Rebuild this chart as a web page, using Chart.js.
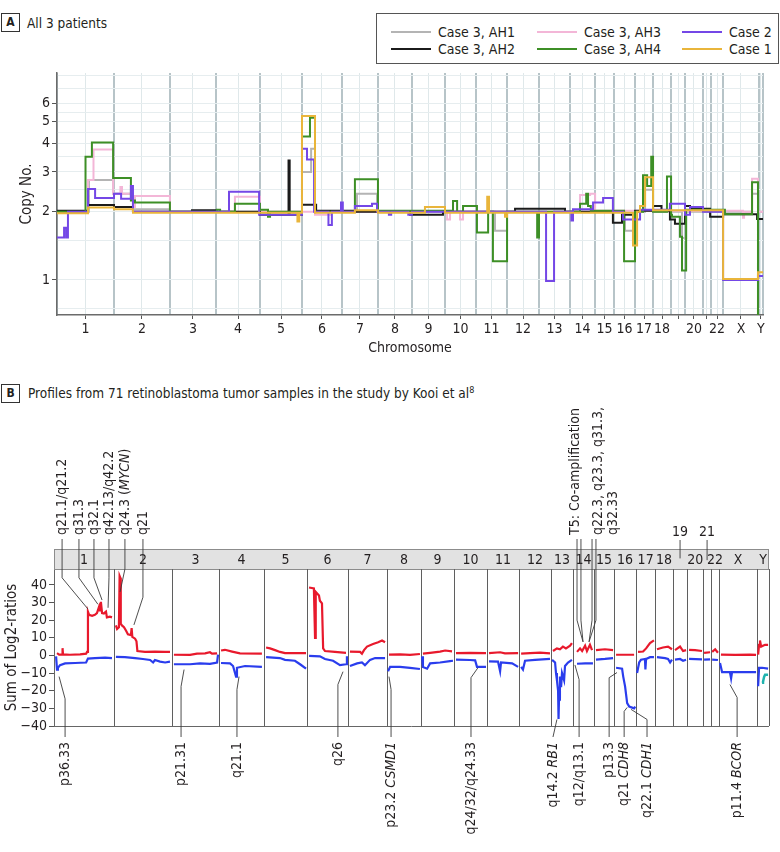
<!DOCTYPE html>
<html lang="en">
<head>
  <meta charset="UTF-8" />
  <title>Copy number profiles</title>
  <script src="https://cdn.jsdelivr.net/npm/chart.js"></script>
  <style>
    body {
      margin: 0;
      background: #fff;
      color: #231f20;
      font-family: 'Liberation Sans Narrow', 'DejaVu Sans Condensed', 'Liberation Sans', sans-serif;
    }
    #page {
      position: relative;
      width: 780px;
      height: 852px;
      overflow: hidden;
    }
    .tag {
      position: absolute;
      left: 1px;
      width: 17px;
      height: 17px;
      border: 1px solid #333;
      font-weight: bold;
      font-size: 12px;
      line-height: 17px;
      text-align: center;
    }
    .title {
      position: absolute;
      font-size: 13.5px;
      line-height: 18px;
    }
    .title sup { font-size: 9px; line-height: 0; }
    #legendA {
      position: absolute;
      left: 376px;
      top: 13px;
      width: 403px;
      height: 51px;
      box-sizing: border-box;
      border: 1px solid #555;
      padding: 9px 0 0 14px;
      display: grid;
      grid-template-columns: 146px 145px 140px;
      grid-template-rows: 17px 17px;
      grid-auto-flow: column;
      font-size: 14px;
    }
    .item { display: flex; align-items: center; white-space: nowrap; }
    .swatch { width: 40px; height: 2px; margin-right: 7px; }
    canvas { position: absolute; left: 0; }
    #chartA { top: 0; }
    #chartB { top: 380px; }
  </style>
</head>
<body>
<div id="page">
  <div class="tag" style="top:13px">A</div>
  <div class="title" style="left:27px; top:14px">All 3 patients</div>
  <div id="legendA"></div>
  <canvas id="chartA" width="780" height="370"></canvas>

  <div class="tag" style="top:384px">B</div>
  <div class="title" style="left:28px; top:384px">Profiles from 71 retinoblastoma tumor samples in the study by Kooi et al<sup>8</sup></div>
  <canvas id="chartB" width="780" height="472"></canvas>
</div>

<script>
const FONT = "'Liberation Sans Narrow', 'DejaVu Sans Condensed', 'Liberation Sans', sans-serif";
Chart.defaults.font.family = FONT;
Chart.defaults.color = '#231f20';

// ---------- shared ----------
const chromNames = ['1','2','3','4','5','6','7','8','9','10','11','12','13','14','15','16','17','18','19','20','21','22','X','Y'];

// ---------- panel A : copy number, genome position (Mb as laid out in the figure) ----------
const chromEdgesA = [0,250,495,697,890,1074,1249,1407,1556,1701,1837,1973,2113,2249,2359,2442,2534,2613,2692,2753,2832,2867,2920,3077,3095];
const axisLabelsA = ['1','2','3','4','5','6','7','8','9','10','11','12','13','14','15','16','17','18','','20','','22','X','Y'];
const copyTicks = [1,2,3,4,5,6];
const copyGrid = [0.75,1,1.5,2,2.5,3,3.5,4,4.5,5,5.5,6,7,8];

const seriesNames = ['Case 3, AH1','Case 3, AH2','Case 3, AH3','Case 3, AH4','Case 2','Case 1'];
const seriesColors = ['#b4b4b4','#1b1b1b','#f3b6d7','#3d8f26','#7447e6','#e9b53b'];

const ah1X = [0,140,246,333,495,1074,1114,1131,1315,1403,1920,1973,2490,2534,2578,2613,2740,2758,3047,3073,3095];
const ah1Y = [2.0,2.76,2.4,2.05,2.0,3.0,3.8,2.0,2.4,2.0,1.65,2.0,1.65,2.0,2.5,2.0,1.53,2.0,2.4,2.0,2.0];

const ah2X = [0,136,250,333,592,697,890,1015,1020,1074,1136,1306,1548,1692,2008,2227,2437,2477,2534,2613,2650,2687,2709,2753,2775,2863,2920,3069,3095];
const ah2Y = [2.02,2.14,2.1,2.0,2.03,2.0,1.94,3.37,1.94,2.15,2.02,2.0,1.94,2.0,2.06,2.0,1.79,1.94,2.02,2.12,2.02,1.85,1.77,2.12,2.06,1.9,1.95,1.86,1.86];

const ah3X = [0,136,160,246,278,285,333,342,495,780,890,1131,1197,1710,1723,1767,1780,2293,2337,2359,3007,3012,3047,3073,3095];
const ah3Y = [2.0,2.76,3.77,2.4,2.57,2.4,2.1,2.35,2.0,2.33,2.0,1.94,2.0,1.85,2.0,1.85,2.0,2.37,2.4,2.02,1.88,2.0,2.8,2.0,2.0];

const ah4X = [0,125,153,246,324,342,495,701,715,780,890,925,934,1074,1109,1131,1306,1407,1736,1754,1780,1841,1890,1911,1973,2105,2113,2293,2320,2328,2340,2486,2534,2569,2587,2605,2613,2674,2692,2696,2731,2740,2758,2928,3047,3073,3095];
const ah4Y = [2.0,3.5,4.04,2.82,2.24,2.2,2.0,2.04,2.0,2.17,2.04,1.9,2.0,4.3,5.2,2.0,2.78,2.02,2.23,2.0,2.12,1.62,2.0,1.21,2.0,1.54,2.0,2.17,2.4,2.12,2.02,1.21,2.0,2.9,2.6,3.5,2.0,2.86,1.94,1.9,1.55,1.10,2.04,1.95,2.70,0.55,0.55];

const case2X = [0,31,40,48,136,167,250,281,324,333,754,886,1074,1096,1127,1190,1205,1245,1253,1306,1381,1403,1455,1465,1540,1556,2144,2179,2255,2262,2350,2394,2437,2481,2556,2687,2753,2775,2832,2920,3073,3095];
const case2Y = [1.54,1.70,1.54,2.0,2.52,2.3,2.4,2.28,2.6,2.0,2.45,1.94,3.8,3.4,2.0,1.75,2.0,2.2,2.0,2.12,2.17,2.0,1.94,2.0,1.94,2.0,0.99,2.0,1.83,2.05,2.2,2.3,2.0,1.85,2.04,2.17,1.94,2.1,2.0,1.0,1.04,1.04];

const case1X = [0,136,250,333,1054,1062,1074,1131,1306,1407,1613,1701,1886,1894,1964,1973,2525,2543,2556,2578,2613,2920,3073,3095];
const case1Y = [1.97,2.09,2.05,1.98,1.81,1.98,5.3,1.98,2.03,1.98,2.1,1.98,2.33,1.98,1.9,1.98,1.42,2.0,2.12,2.84,2.03,1.01,1.08,1.08];

// ---------- panel B : sum of log2 ratios ----------
const chromEdgesB = [0,260,511,714,909,1095,1273,1442,1589,1732,1874,2013,2152,2247,2338,2424,2520,2602,2680,2741,2810,2844,2879,3043,3095];
const headerLabelsB = ['1','2','3','4','5','6','7','8','9','10','11','12','13','14','15','16','17','18','','20','','22','X','Y'];
const log2Ticks = [-40,-30,-20,-10,0,10,20,30,40];

const gainX = [13,22,35,37,39,69,113,139,143,147,152,165,177,186,195,199,203,208,216,225,229,242,251,255,
  268,273,281,284,287,289,294,303,312,320,333,336,339,351,357,361,394,437,481,502,508,
  519,589,619,654,675,684,706,712,
  723,740,771,805,900,905,
  918,935,957,978,1000,1091,1093,
  1104,1125,1130,1133,1147,1151,1160,1165,1173,1216,1264,1270,
  1281,1325,1333,1342,1355,1381,1403,1420,1433,1440,
  1450,1498,1541,1584,1588,
  1597,1628,1671,1693,1723,1730,
  1740,1801,1870,1873,
  1883,1931,1952,2009,2012,
  2022,2061,2104,2147,2150,
  2160,2177,2190,2203,2216,2234,2242,2250,
  2264,2277,2286,2299,2307,2320,2329,2336,
  2346,2385,2420,2422,
  2433,2511,2518,
  2528,2550,2563,2580,2597,2600,
  2610,2636,2658,2675,2678,
  2688,2710,2723,2736,2739,
  2749,2775,2805,2808,
  2814,2840,2842,
  2849,2862,2874,2877,
  2887,2948,3013,3039,3041,
  3048,3052,3056,3061,3078,3091];
const gainY = [1.3,0.5,0.6,4.1,0.6,0.4,0.6,1.0,2.0,24.8,23,22.5,23,24,27.6,25,30.4,24,23.8,24.8,21.6,22,21.6,null,
  17,15,16,45,44,18,17,16,14,12,11.5,15.5,10.5,9.5,8,2.5,2,2.2,2,2,null,
  0.4,0.3,1,1.2,1.8,1.0,1.2,null,
  2.8,3.2,2.2,1.2,1.0,null,
  4.5,4,3,2,1.3,1.3,null,
  38.5,38,10,36,34,31,29.5,4,2.5,2,1.5,null,
  2.2,2,1,3,5,6.5,7.5,8.5,7.5,null,
  0.5,0.6,0.3,0.8,null,
  1,1.5,2.2,2.8,2.3,null,
  1.3,1.5,1.3,null,
  1.3,1.8,1.2,1.3,null,
  1,1.3,1.6,1.2,null,
  2.5,4,3.5,5,4,5.5,7,null,
  2,4,2.5,5.5,2.5,6,3,null,
  3,3.5,3,null,
  0.4,0.4,null,
  2,2.2,4,7,8.5,null,
  3.5,4.5,5,3.5,null,
  3,5,2.5,3,null,
  3.2,3,2.5,null,
  1.5,1.8,null,
  2,3.5,1.5,null,
  0.5,0.3,0.5,0.3,null,
  0.5,6,8.5,5,6,6];

const lossX = [9,13,17,26,48,91,139,147,177,221,251,255,
  268,307,351,385,416,429,437,459,481,502,508,
  519,589,632,675,706,710,712,
  723,762,775,788,792,827,900,905,
  918,978,1000,1043,1065,1091,1093,
  1104,1151,1173,1208,1238,1264,1268,1270,
  1281,1312,1333,1346,1368,1390,1433,1440,
  1446,1455,1498,1541,1584,1588,
  1593,1597,1615,1628,1671,1714,1727,1730,
  1740,1801,1823,1831,1870,1873,
  1883,1922,1931,1935,1983,2009,2012,
  2022,2030,2039,2082,2147,2150,
  2156,2169,2173,2177,2182,2184,2186,2190,2195,2199,2208,2212,2225,2242,2250,
  2264,2299,2333,2336,
  2346,2385,2420,2422,
  2433,2459,2464,2472,2481,2490,2511,2516,2518,
  2524,2533,2541,2558,2560,2563,2580,2597,2600,
  2610,2645,2658,2667,2675,2678,
  2688,2710,2723,2736,2739,
  2749,2805,2808,
  2814,2840,2842,
  2849,2874,2877,
  2883,2892,2926,2931,2935,2991,3039,3041,
  3048,3052,3065,3091];
const lossY = [-0.5,-8,-7,-5.5,-4.5,-4.3,-4,-1.8,-1.5,-1.2,-1.5,null,
  -0.8,-1,-1.5,-2,-2.6,-4,-2.6,-3.5,-4,-3.5,null,
  -5,-5,-4.5,-4.8,-4,0.5,null,
  -4.3,-4.5,-6,-12,-7,-6,-6.5,null,
  -1,-1.5,-2.5,-3,-5,-7.5,null,
  -0.2,-0.5,-2,-3,-5.5,-5,-0.5,null,
  -6,-4.5,-4,-5.5,-2.5,-1.5,-1.5,null,
  -9,-6.5,-6.5,-7,-7.7,null,
  -0.5,-6.5,-7.5,-4.5,-4,-3.2,-3,null,
  -2.4,-2.6,-2.8,-6.5,-6.5,null,
  -3.4,-3.5,-9,-4,-4.5,-6.5,null,
  -6.5,-8,-3,-2.5,-2,null,
  -2.5,-4,-10,-14,-20,-36,-25,-12,-18,-10,-14,-6,-4,-2.5,null,
  -4.7,-4.5,-4.5,null,
  -2.4,-2,-1.5,null,
  -7,-7.5,-12,-17.5,-27,-29,-30,-29,null,
  -10,-4,-2.4,-2,-8,-2,-1,-1,null,
  -1,-1.5,-2,-4,-2.4,null,
  -2.4,-2,-3,-2.4,null,
  -2,-2.2,null,
  -2.4,-2.2,null,
  -2.4,-2.6,null,
  -4.3,-9.5,-9.5,-13,-9.5,-9.5,-9.5,null,
  -17.5,-7,-7,-7.5];

const tealX = [3065,3069,3074,3078,3091];
const tealY = [-15.5,-15,-12,-11,-11];

// annotations (x in genome position, y in log2 units; bend = where the leader turns)
const topNotes = [
  { lines: ['q21.1/q21.2'], x: 35, legs: [35], bend: 44, ax: 147, ay: 26.3 },
  { lines: ['q31.3'], x: 108, legs: [108], bend: 44, ax: 190, ay: 29 },
  { lines: ['q32.1'], x: 173, legs: [173], bend: 44, ax: 208, ay: 31.4 },
  { lines: ['q42.13/q42.2'], x: 238, legs: [238], bend: 44, ax: 234, ay: 27 },
  { lines: ['q24.3 (*MYCN*)'], x: 307, legs: [307], bend: 49, ax: 286, ay: 36 },
  { lines: ['q21'], x: 385, legs: [385], bend: 33, ax: 346, ay: 17.3 },
  { lines: ['T5: Co-amplification'], x: 2255, legs: [2264, 2281], bend: 20, ax: 2290, ay: 7.7 },
  { lines: ['q22.3, q23.3, q31.3,', 'q32.33'], x: 2355, legs: [2329, 2346], bend: 20, ax: 2316, ay: 7.7 }
];
const smallNotes = [
  { text: '19', x: 2710, to: 55 },
  { text: '21', x: 2827, to: 54 }
];
const bottomNotes = [
  { text: 'p36.33', x: 48, bend: -24.6, ax: 22, ay: -12 },
  { text: 'p21.31', x: 550, bend: -17.6, ax: 563, ay: -8 },
  { text: 'q21.1', x: 792, bend: -19.3, ax: 801, ay: -12 },
  { text: 'q26', x: 1229, bend: -16.5, ax: 1251, ay: -9.2 },
  { text: 'p23.2 *CSMD1*', x: 1459, bend: -19.3, ax: 1450, ay: -12 },
  { text: 'q24/32/q24.33', x: 1805, bend: -12.6, ax: 1835, ay: -7 },
  { text: 'q14.2 *RB1*', x: 2160, bend: null, ax: 2177, ay: -36.3 },
  { text: 'q12/q13.1', x: 2273, bend: -13.7, ax: 2255, ay: -5.4 },
  { text: 'p13.3', x: 2403, bend: -12.6, ax: 2437, ay: -9.7 },
  { text: 'q21 *CDH8*', x: 2468, bend: -31.7, ax: 2481, ay: -29.5 },
  { text: 'q22.1 *CDH1*', x: 2567, bend: -36.3, ax: 2498, ay: -30.6 },
  { text: 'p11.4 *BCOR*', x: 2957, bend: -23.8, ax: 2926, ay: -16.5 }
];

// ---------- helpers ----------
function pts(xs, ys) {
  return xs.map((x, i) => ({ x: x, y: ys[i] }));
}
function centers(edges) {
  return edges.slice(0, -1).map((e, i) => (e + edges[i + 1]) / 2);
}

// ---------- legend A ----------
const legendEl = document.getElementById('legendA');
seriesNames.forEach((name, i) => {
  const item = document.createElement('div');
  item.className = 'item';
  item.innerHTML = '<span class="swatch" style="background:' + seriesColors[i] + '"></span>' + name;
  legendEl.appendChild(item);
});

// ---------- chart A ----------
const centersA = centers(chromEdgesA);
const seriesA = [[ah1X, ah1Y], [ah2X, ah2Y], [ah3X, ah3Y], [ah4X, ah4Y], [case2X, case2Y], [case1X, case1Y]];
const drawOrder = [5, 3, 4, 2, 1, 0];

new Chart(document.getElementById('chartA'), {
  type: 'line',
  data: {
    datasets: seriesA.map((s, i) => ({
      label: seriesNames[i],
      data: pts(s[0], s[1]),
      borderColor: seriesColors[i],
      borderWidth: 2,
      stepped: 'before',
      pointRadius: 0,
      fill: false,
      order: drawOrder[i]
    }))
  },
  options: {
    responsive: false,
    animation: false,
    events: [],
    layout: { padding: { top: 73, right: 17, left: 0, bottom: 0 } },
    plugins: { legend: { display: false }, tooltip: { enabled: false } },
    scales: {
      x: {
        type: 'linear',
        min: 0,
        max: 3095,
        afterFit: s => { s.height = 55; },
        afterBuildTicks: s => {
          s.ticks = chromEdgesA.map(v => ({ value: v, kind: 'edge', name: '' }))
            .concat(centersA.map((v, i) => ({ value: v, kind: 'mid', name: axisLabelsA[i] })));
        },
        ticks: {
          autoSkip: false,
          maxRotation: 0,
          padding: 2,
          font: { size: 14 },
          color: '#231f20',
          callback: (v, i, t) => t[i].name
        },
        grid: {
          color: c => c.tick && c.tick.kind === 'edge' ? '#b7c4c8' : '#dfe8ea',
          lineWidth: c => c.tick && c.tick.kind === 'edge' ? 2 : 1,
          tickColor: c => c.tick && c.tick.kind === 'mid' ? '#555' : 'rgba(0,0,0,0)',
          tickLength: 4
        },
        border: { color: '#6b6b6b', width: 1.5 },
        title: { display: true, text: 'Chromosome', font: { size: 14 }, padding: { top: 0, bottom: 13 } }
      },
      y: {
        type: 'logarithmic',
        min: 0.72,
        max: 8.2,
        afterFit: s => { s.width = 57; },
        afterBuildTicks: s => { s.ticks = copyGrid.map(v => ({ value: v })); },
        ticks: {
          autoSkip: false,
          padding: 2,
          font: { size: 14 },
          color: '#231f20',
          callback: v => copyTicks.includes(v) ? String(v) : ''
        },
        grid: {
          color: '#e6edef',
          lineWidth: 1,
          tickColor: c => c.tick && copyTicks.includes(c.tick.value) ? '#555' : 'rgba(0,0,0,0)',
          tickLength: 5
        },
        border: { color: '#6b6b6b', width: 1.5 },
        title: { display: true, text: 'Copy No.', font: { size: 15 }, padding: { top: 18, bottom: 0 } }
      }
    }
  }
});

// ---------- chart B ----------
const centersB = centers(chromEdgesB);

function richSegments(str) {
  return str.split('*').map((t, i) => ({ t: t, it: i % 2 === 1 })).filter(s => s.t.length);
}
function segWidth(ctx, segs, size) {
  let w = 0;
  segs.forEach(s => {
    ctx.font = (s.it ? 'italic ' : '') + size + 'px ' + FONT;
    w += ctx.measureText(s.t).width;
  });
  return w;
}
function drawVertical(ctx, str, x, y, anchorEnd, size) {
  const segs = richSegments(str);
  const w = segWidth(ctx, segs, size);
  ctx.save();
  ctx.translate(x, y);
  ctx.rotate(-Math.PI / 2);
  ctx.textBaseline = 'middle';
  ctx.textAlign = 'left';
  let pos = anchorEnd ? -w : 0;
  segs.forEach(s => {
    ctx.font = (s.it ? 'italic ' : '') + size + 'px ' + FONT;
    ctx.fillText(s.t, pos, 0);
    pos += ctx.measureText(s.t).width;
  });
  ctx.restore();
}

const genomePanel = {
  id: 'genomePanel',
  beforeDatasetsDraw(chart) {
    const ctx = chart.ctx;
    const xs = chart.scales.x;
    const { left, right, top, bottom } = chart.chartArea;
    const headTop = top - 20;
    ctx.save();
    // chromosome header band
    ctx.fillStyle = '#e2e2e2';
    ctx.fillRect(left, headTop, right - left, 20);
    ctx.strokeStyle = '#8c8c8c';
    ctx.lineWidth = 1;
    ctx.strokeRect(left + 0.5, headTop + 0.5, right - left - 1, 20);
    ctx.fillStyle = '#231f20';
    ctx.font = '14px ' + FONT;
    ctx.textAlign = 'center';
    ctx.textBaseline = 'middle';
    centersB.forEach((c, i) => {
      if (headerLabelsB[i]) ctx.fillText(headerLabelsB[i], xs.getPixelForValue(c), headTop + 11);
    });
    // chromosome boundaries
    ctx.strokeStyle = '#5f5f5f';
    chromEdgesB.slice(1).forEach(e => {
      const px = Math.round(xs.getPixelForValue(e)) + 0.5;
      ctx.beginPath();
      ctx.moveTo(px, top);
      ctx.lineTo(px, bottom);
      ctx.stroke();
    });
    // bottom axis line
    ctx.strokeStyle = '#666';
    ctx.beginPath();
    ctx.moveTo(left, bottom + 0.5);
    ctx.lineTo(right, bottom + 0.5);
    ctx.stroke();
    ctx.restore();
  },
  afterDatasetsDraw(chart) {
    const ctx = chart.ctx;
    const xs = chart.scales.x, ys = chart.scales.y;
    const { top, bottom } = chart.chartArea;
    const headTop = top - 20;
    const X = v => xs.getPixelForValue(v), Y = v => ys.getPixelForValue(v);
    ctx.save();
    ctx.strokeStyle = '#3a3a3a';
    ctx.lineWidth = 0.9;
    ctx.fillStyle = '#231f20';
    // top labels
    topNotes.forEach(n => {
      n.legs.forEach(l => {
        ctx.beginPath();
        ctx.moveTo(X(l), headTop - 10);
        ctx.lineTo(X(l), Y(n.bend));
        ctx.lineTo(X(n.ax), Y(n.ay));
        ctx.stroke();
      });
      n.lines.forEach((t, k) => drawVertical(ctx, t, X(n.x) + k * 15, headTop - 14, false, 14));
    });
    smallNotes.forEach(n => {
      ctx.beginPath();
      ctx.moveTo(X(n.x), headTop - 9);
      ctx.lineTo(X(n.x), Y(n.to));
      ctx.stroke();
      ctx.font = '14px ' + FONT;
      ctx.textAlign = 'center';
      ctx.textBaseline = 'middle';
      ctx.fillText(n.text, X(n.x), headTop - 17);
    });
    // bottom labels
    bottomNotes.forEach(n => {
      ctx.beginPath();
      ctx.moveTo(X(n.x), bottom + 11);
      if (n.bend !== null) ctx.lineTo(X(n.x), Y(n.bend));
      ctx.lineTo(X(n.ax), Y(n.ay));
      ctx.stroke();
      drawVertical(ctx, n.text, X(n.x), bottom + 16, true, 14);
    });
    ctx.restore();
  }
};

new Chart(document.getElementById('chartB'), {
  type: 'line',
  data: {
    datasets: [
      { label: 'Gains', data: pts(gainX, gainY), borderColor: '#e8192c', borderWidth: 2.2, pointRadius: 0, spanGaps: false, fill: false },
      { label: 'Losses', data: pts(lossX, lossY), borderColor: '#2a3ded', borderWidth: 2.2, pointRadius: 0, spanGaps: false, fill: false },
      { label: 'Other', data: pts(tealX, tealY), borderColor: '#1fb3ae', borderWidth: 2.5, pointRadius: 0, fill: false }
    ]
  },
  options: {
    responsive: false,
    animation: false,
    events: [],
    layout: { padding: { top: 189, right: 11, left: 0, bottom: 126 } },
    plugins: { legend: { display: false }, tooltip: { enabled: false } },
    scales: {
      x: { type: 'linear', min: 0, max: 3095, display: false },
      y: {
        min: -40,
        max: 49,
        afterFit: s => { s.width = 54; },
        afterBuildTicks: s => { s.ticks = log2Ticks.map(v => ({ value: v })); },
        ticks: {
          autoSkip: false,
          padding: 2,
          font: { size: 14 },
          color: '#231f20',
          callback: v => v < 0 ? '\u2212' + Math.abs(v) : String(v)
        },
        grid: { drawOnChartArea: false, tickLength: 5, tickColor: '#555' },
        border: { color: '#666', width: 1 },
        title: { display: true, text: 'Sum of Log2-ratios', font: { size: 15 }, padding: { top: 3, bottom: 0 } }
      }
    }
  },
  plugins: [genomePanel]
});
</script>
</body>
</html>
